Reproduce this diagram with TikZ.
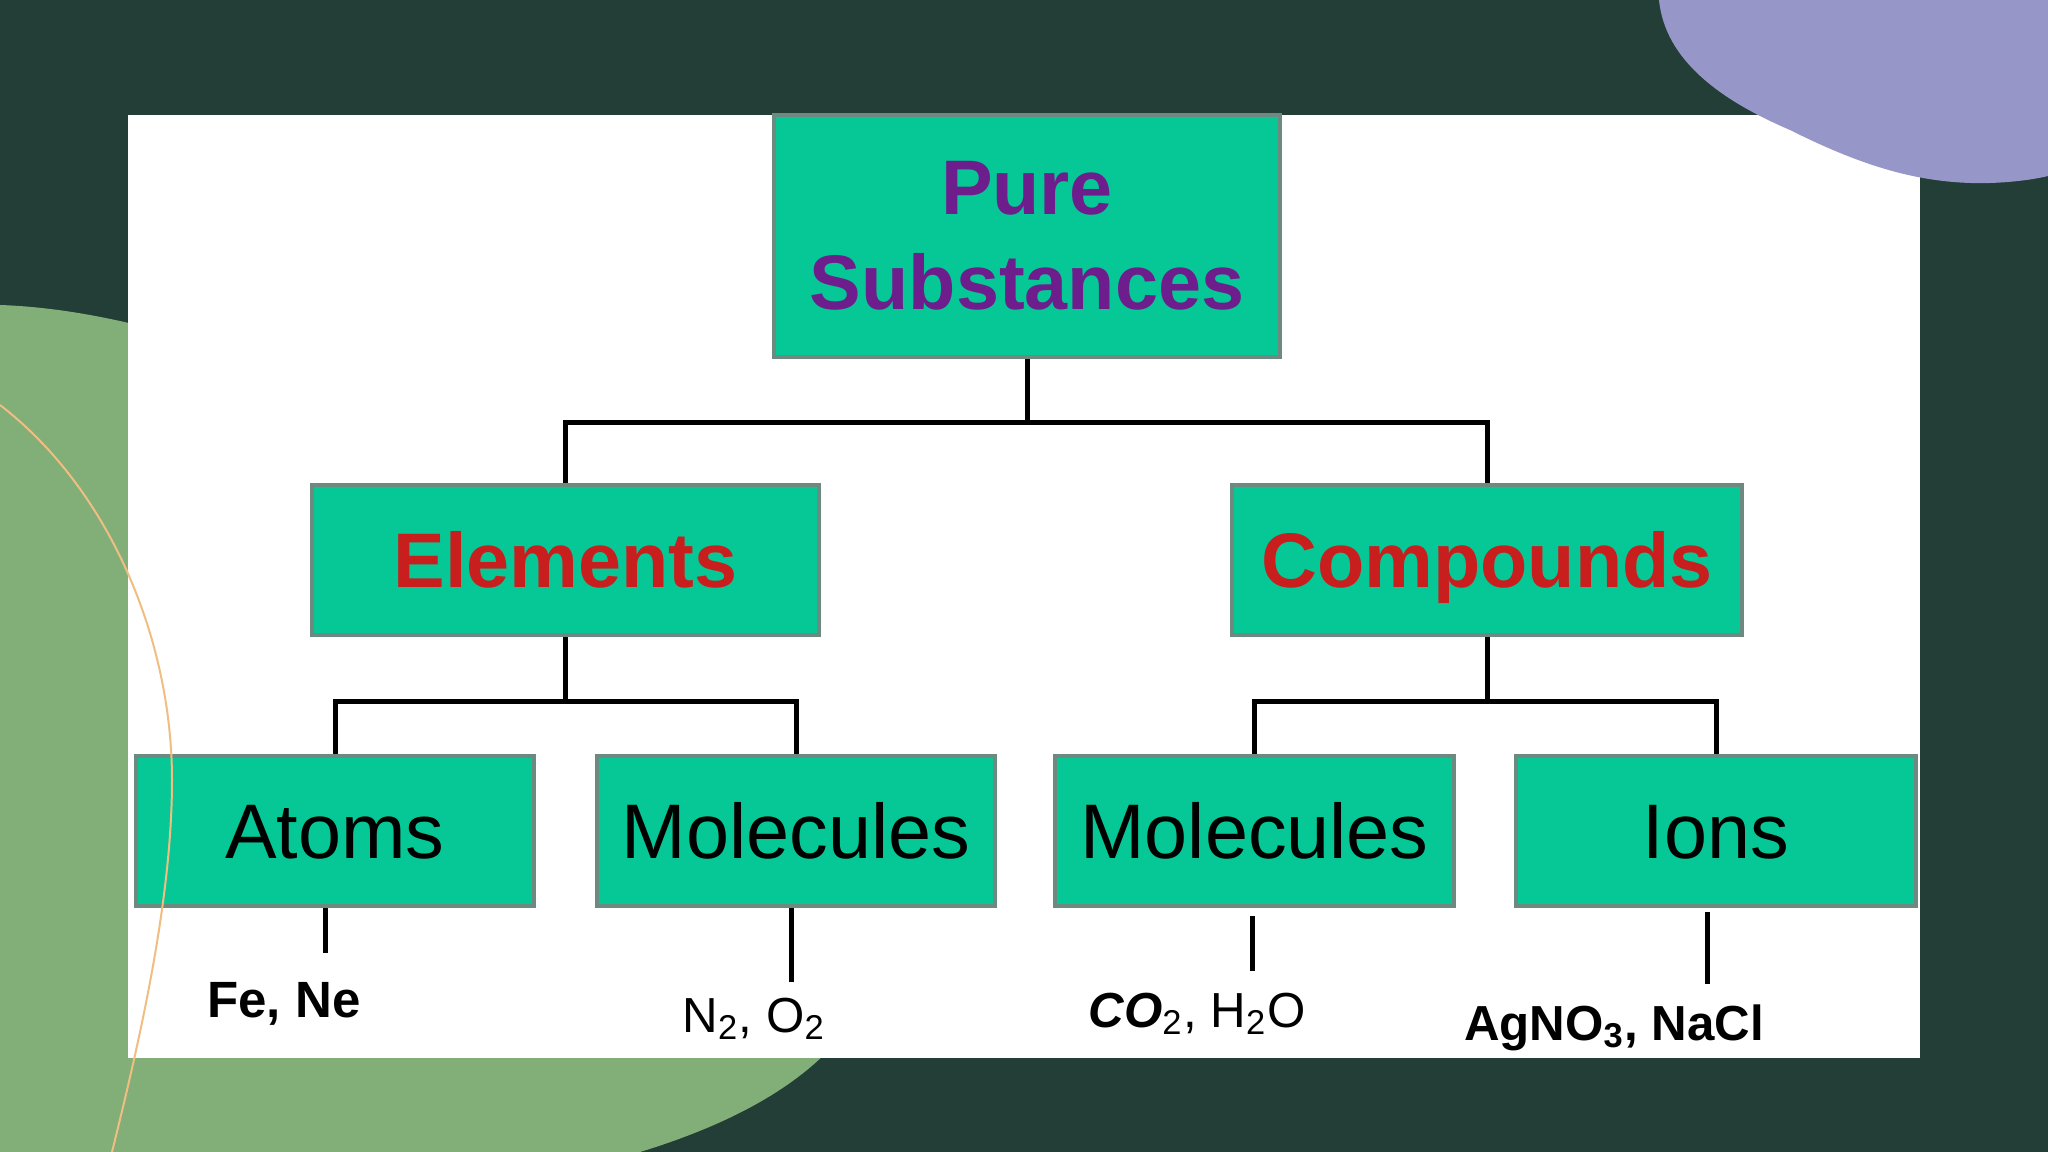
\documentclass[tikz,border=0pt]{standalone}
\usepackage{fontspec}
\setmainfont{Liberation Sans}
\usetikzlibrary{calc}
\usetikzlibrary{positioning}

\definecolor{slide}{HTML}{233D37}
\definecolor{leafgreen}{HTML}{82AE78}
\definecolor{lilac}{HTML}{9696C8}
\definecolor{peach}{HTML}{F0BE82}
\definecolor{boxfill}{HTML}{05C896}
\definecolor{boxline}{HTML}{6E8A80}
\definecolor{grape}{HTML}{6E1E8C}
\definecolor{brick}{HTML}{C81E1E}

\tikzset{
  box/.style={draw=boxline, line width=0.04cm, fill=boxfill, inner sep=0pt,
    minimum height=1.5cm},
  oneline/.style={box, text height=20.4pt, text depth=4.6pt},
  link/.style={line width=0.05cm, black},
  formula/.style={anchor=base, inner sep=0pt, font=\fontsize{14}{17}\selectfont}
}

\begin{document}
\begin{tikzpicture}[x=0.01cm, y=-0.01cm]
  \useasboundingbox (0,0) rectangle (2048,1152);

  % slide background
  \fill[slide] (0,0) rectangle (2048,1152);
  \fill[leafgreen] (0,305) .. controls (450,320) and (1300,950) .. (640,1152) -- (0,1152) -- cycle;
  \fill[white] (128,115) rectangle (1920,1058);
  \fill[lilac] (1659,0) .. controls (1665,60) and (1720,100) .. (1790,130)
    .. controls (1860,165) and (1920,185) .. (1990,183)
    .. controls (2020,182) and (2040,178) .. (2048,176) -- (2048,0) -- cycle;

  \node [box, minimum width=5.06cm, minimum height=2.42cm, align=center, text=grape,
    font=\bfseries\fontsize{22}{27}\selectfont] (pure) at (1027,236) {Pure\\Substances};

  \node [oneline, minimum width=5.07cm, text=brick, font=\bfseries\fontsize{22}{26}\selectfont]
    (elem) at (565.5,560) {Elements};
  \node [oneline, minimum width=5.10cm, text=brick, font=\bfseries\fontsize{22}{26}\selectfont]
    (comp) at (1487,560) {Compounds};

  \node [oneline, minimum width=3.98cm, font=\fontsize{22}{26}\selectfont] (atoms) at (335,831) {Atoms};
  \node [oneline, minimum width=3.98cm, font=\fontsize{22}{26}\selectfont] (molA) at (796,831) {Molecules};
  \node [oneline, minimum width=3.99cm, font=\fontsize{22}{26}\selectfont] (molB) at (1254.5,831) {Molecules};
  \node [oneline, minimum width=4.00cm, font=\fontsize{22}{26}\selectfont] (ions) at (1716,831) {Ions};

  \draw [link] (pure.south) -- ++(0,63) coordinate (topfork);
  \draw [link] (elem.north) |- (topfork) -| (comp.north);

  \draw [link] (elem.south) -- ++(0,64) coordinate (elemfork);
  \draw [link] (atoms.north) |- (elemfork) -| (molA.north);
  \draw [link] (comp.south) -- ++(0,64) coordinate (compfork);
  \draw [link] (molB.north) |- (compfork) -| (ions.north);

  \draw [link] ($(atoms.south)+(-10,0)$) -- ++(0,45);
  \draw [link] ($(molA.south)+(-5,0)$) -- ++(0,74);
  \draw [link] ($(molB.south)+(-2,8)$) -- ++(0,55);
  \draw [link] ($(ions.south)+(-9,4)$) -- ++(0,72);

  \node [formula, font=\bfseries\fontsize{14.5}{17}\selectfont] (fene) at (284,1017) {Fe, Ne};
  \node [formula] (ntwo) at (754,1032) {N\textsubscript{2}, O\textsubscript{2}};
  \node [formula] (cotwo) at (1197,1027) {\textbf{\textit{CO}}\textsubscript{2}, H\textsubscript{2}O};
  \node [formula, font=\bfseries\fontsize{14}{17}\selectfont] (agno) at (1614,1040) {AgNO\textsubscript{3}, NaCl};

  % decorative line
  \draw [peach, line width=0.02cm] (0,405) .. controls (110,490) and (172,640) .. (172,780)
    .. controls (172,900) and (140,1040) .. (110,1160);
\end{tikzpicture}
\end{document}
